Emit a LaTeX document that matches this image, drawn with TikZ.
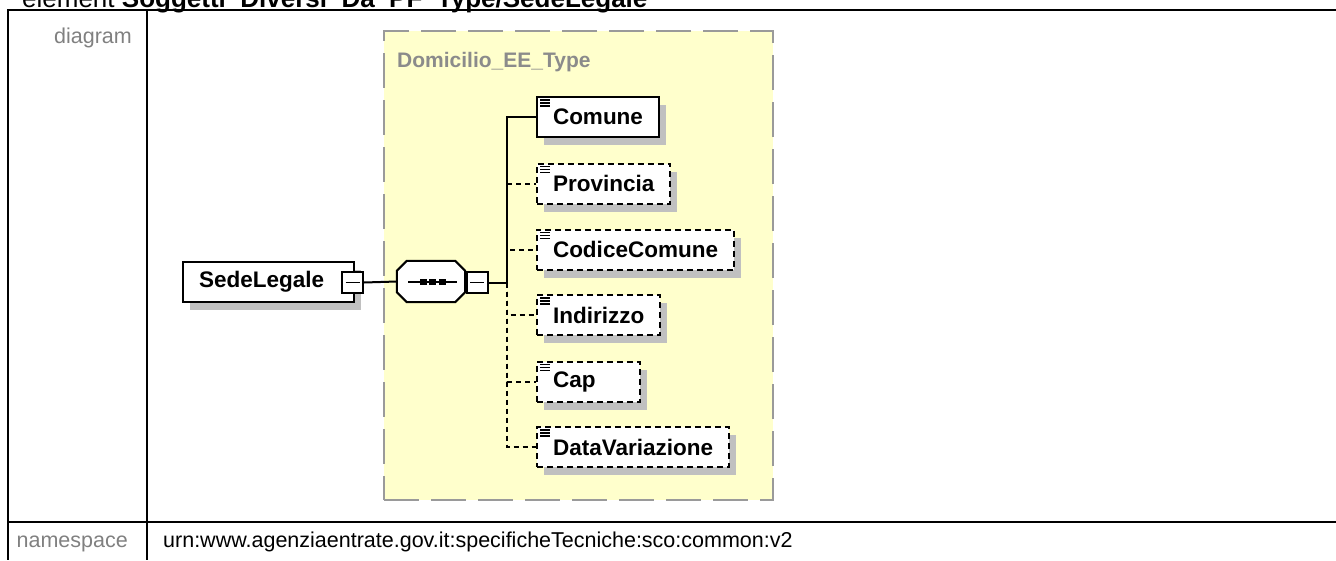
\documentclass[tikz,border=0pt]{standalone}
\usepackage{fontspec}
\setmainfont{Liberation Sans}
\usetikzlibrary{positioning,shadows}
\definecolor{shadowgray}{HTML}{C0C0C0}
\definecolor{typefill}{HTML}{FFFFCC}
\definecolor{typegray}{HTML}{9A9A9A}
\definecolor{labelgray}{HTML}{808080}

\newcommand{\elemfont}{\fontsize{22.5}{26}\selectfont\bfseries}
\newcommand{\cellfont}{\fontsize{21.5}{26}\selectfont}

\begin{document}
\begin{tikzpicture}[x=1pt, y=-1pt,
    table/.style={line width=2.5pt},
    typebox/.style={draw=typegray, fill=typefill, line width=2.5pt,
      dash pattern=on 35pt off 12pt, inner sep=0pt},
    elembox/.style={draw, line width=2pt, fill=white, anchor=west, font=\elemfont,
      minimum width=103pt, minimum height=40pt, inner xsep=16pt, inner ysep=0pt,
      align=left,
      general shadow={fill=shadowgray, shadow xshift=7pt, shadow yshift=-8pt}},
    optbox/.style={elembox, dash pattern=on 6pt off 4pt},
    minusbox/.style={draw, line width=2pt, fill=white, minimum size=21pt, inner sep=0pt,
      path picture={\draw[line width=1.8pt]
        ([xshift=-7pt]path picture bounding box.center) --
        ([xshift=7pt]path picture bounding box.center);}},
    link/.style={line width=2pt},
    optlink/.style={link, dash pattern=on 5pt off 4pt},
    icon/.style={line width=1.4pt}
  ]
    \useasboundingbox (0,0) rectangle (1336,560);

    % title and table
    \node[font=\fontsize{26}{30}\selectfont, anchor=base west, inner sep=0pt] (title) at (22,7)
      {element \textbf{Soggetti\_Diversi\_Da\_PF\_Type/SedeLegale}};
    \draw[table] (7,10) -- (1336,10);
    \draw[table] (8,10) -- (8,560);
    \draw[table] (147,10) -- (147,560);
    \draw[table] (8,522) -- (1336,522);
    \node[font=\cellfont, text=labelgray, anchor=base east, inner sep=0pt] (diaglbl) at (132,43) {diagram};
    \node[font=\cellfont, text=labelgray, anchor=base east, inner sep=0pt] (nslbl) at (128,547) {namespace};
    \node[font=\cellfont, anchor=base west, inner sep=0pt] (nsval) at (163,547)
      {urn:www.agenziaentrate.gov.it:specificheTecniche:sco:common:v2};

    % complex type
    \node[typebox, minimum width=389pt, minimum height=469pt] (domtype) at (578.5,265.5) {};
    \node[font=\fontsize{21}{24}\selectfont\bfseries, text=typegray!90!black, anchor=base west, inner sep=0pt]
      (domlbl) at (397,67) {Domicilio\_EE\_Type};

    % element and sequence
    \node[elembox, text width=139pt] (sede) at (182,282) {SedeLegale};
    \node[minusbox] (sedeminus) at (352.5,282.5) {};

    \node[minimum width=68pt, minimum height=41pt, inner sep=0pt] (seq) at (431,281.5) {};
    \fill[shadowgray, shift={(7,8)}]
      ([xshift=10pt]seq.north west) -- ([xshift=-10pt]seq.north east) --
      ([yshift=-10pt]seq.north east) -- ([yshift=10pt]seq.south east) --
      ([xshift=-10pt]seq.south east) -- ([xshift=10pt]seq.south west) --
      ([yshift=10pt]seq.south west) -- ([yshift=-10pt]seq.north west) -- cycle;
    \draw[link, fill=white]
      ([xshift=10pt]seq.north west) -- ([xshift=-10pt]seq.north east) --
      ([yshift=-10pt]seq.north east) -- ([yshift=10pt]seq.south east) --
      ([xshift=-10pt]seq.south east) -- ([xshift=10pt]seq.south west) --
      ([yshift=10pt]seq.south west) -- ([yshift=-10pt]seq.north west) -- cycle;
    \draw[link] ([xshift=-23pt]seq.center) -- ([xshift=26pt]seq.center);
    \foreach \dx in {-8,1.5,11}
      \fill ([xshift=\dx pt]seq.center) +(-3.5,-3) rectangle +(3.5,3);
    \node[minusbox] (seqminus) at (477,282.5) {};

    % children
    \node[elembox] (comune) at (536,117) {Comune};
    \node[optbox] (provincia) at (536,183.5) {Provincia};
    \node[optbox] (codice) at (536,249.5) {CodiceComune};
    \node[optbox] (indirizzo) at (536,315) {Indirizzo};
    \node[optbox, text width=71pt] (cap) at (536,381.5) {Cap};
    \node[optbox] (datavar) at (536,447) {DataVariazione};

    \foreach \n in {comune,provincia,codice,indirizzo,cap,datavar}
      \foreach \dy in {4,7,10}
        \draw[icon] ([xshift=4pt,yshift=-\dy pt]\n.north west) -- ++(10,0);

    % connectors
    \coordinate (bus) at (507,282.5);
    \draw[link] (sedeminus.east) -- (seq.west);
    \draw[link] (seqminus.east) -- (bus);
    \draw[link] (bus) |- (comune.west);
    \foreach \n in {provincia,codice,indirizzo,cap,datavar}
      \draw[optlink] (bus) |- (\n.west);
\end{tikzpicture}
\end{document}
